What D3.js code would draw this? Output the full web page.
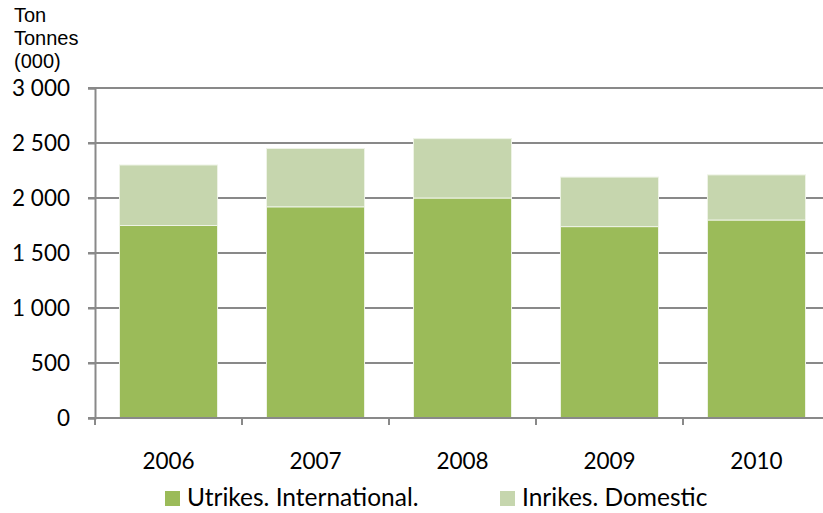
<!DOCTYPE html>
<html>
<head>
<meta charset="utf-8">
<script src="https://cdn.jsdelivr.net/npm/d3@7"></script>
<style>
  body { margin: 0; background: #fff; }
</style>
</head>
<body>
<div id="chart"></div>
<script>
// data (tonnes, thousands)
var years = ["2006", "2007", "2008", "2009", "2010"];
var international = [1750, 1920, 2000, 1740, 1800];
var domestic = [550, 530, 540, 450, 410];
var yTicks = [0, 500, 1000, 1500, 2000, 2500, 3000];
var seriesNames = ["Utrikes. International.", "Inrikes. Domestic"];
var seriesColors = ["#9bbb59", "#c6d6ae"];

var width = 823, height = 513;
var margin = { top: 88, bottom: 95, left: 95 };
var plotRight = 830; // last band runs just past the window edge

var svg = d3.select("#chart")
  .append("svg")
    .attr("width", width)
    .attr("height", height);

var x = d3.scaleBand()
  .domain(years)
  .range([margin.left, plotRight])
  .paddingInner(0.333)
  .paddingOuter(0.1667);

var y = d3.scaleLinear()
  .domain([0, 3000])
  .range([height - margin.bottom, margin.top]);

var fmt = function(v) { return d3.format(",")(v).replace(/,/g, " "); };

// gridlines
svg.append("g")
  .selectAll("line")
  .data(yTicks.filter(function(d){ return d > 0; }))
  .enter()
  .append("line")
    .attr("x1", margin.left - 7)
    .attr("x2", width)
    .attr("y1", function(d){ return y(d); })
    .attr("y2", function(d){ return y(d); })
    .attr("stroke", "#898989")
    .attr("stroke-width", 2);

// stacked bars
var rows = years.map(function(yr, i) {
  return { year: yr, intl: international[i], dom: domestic[i] };
});
var stack = d3.stack().keys(["intl", "dom"])(rows);

svg.append("g")
  .selectAll("g")
  .data(stack)
  .enter()
  .append("g")
    .attr("fill", function(d, i){ return seriesColors[i]; })
  .selectAll("rect")
  .data(function(d){ return d; })
  .enter()
  .append("rect")
    .attr("x", function(d){ return x(d.data.year); })
    .attr("width", x.bandwidth())
    .attr("y", function(d){ return y(d[1]); })
    .attr("height", function(d){ return y(d[0]) - y(d[1]); })
    .attr("stroke", "#eef3e6")
    .attr("stroke-width", 1);

// y axis
var yAxis = svg.append("g")
  .attr("transform", "translate(" + margin.left + ",0)")
  .call(d3.axisLeft(y).tickValues(yTicks).tickFormat(fmt).tickSize(7).tickPadding(18));
yAxis.select(".domain").attr("stroke", "#898989").attr("stroke-width", 2);
yAxis.selectAll(".tick line").attr("stroke", "#898989").attr("stroke-width", 2);
yAxis.selectAll("text")
  .attr("font-family", "Lato, sans-serif")
  .attr("font-size", 22.5)
  .attr("fill", "#000");

// x axis, ticks at band edges
var xAxisG = svg.append("g")
  .attr("transform", "translate(0," + y(0) + ")");
xAxisG.append("line")
  .attr("x1", margin.left - 7)
  .attr("x2", width)
  .attr("stroke", "#898989")
  .attr("stroke-width", 2);
var edges = years.map(function(yr){ return x(yr) - x.step() * x.paddingInner() / 2; });
xAxisG.selectAll(".edge")
  .data(edges)
  .enter()
  .append("line")
    .attr("x1", function(d){ return d; })
    .attr("x2", function(d){ return d; })
    .attr("y1", 0)
    .attr("y2", 7)
    .attr("stroke", "#898989")
    .attr("stroke-width", 2);
xAxisG.selectAll(".lbl")
  .data(years)
  .enter()
  .append("text")
    .attr("x", function(d){ return x(d) + x.bandwidth() / 2; })
    .attr("y", 51)
    .attr("text-anchor", "middle")
    .attr("font-family", "Lato, sans-serif")
    .attr("font-size", 22.5)
    .text(function(d){ return d; });

// unit label
svg.append("text")
  .attr("font-family", "Liberation Sans, Arial, sans-serif")
  .attr("font-size", 20)
  .selectAll("tspan")
  .data(["Ton", "Tonnes", "(000)"])
  .enter()
  .append("tspan")
    .attr("x", 14)
    .attr("y", function(d, i){ return 22 + i * 23; })
    .text(function(d){ return d; });

// legend
var legendX = [165, 500];
var legend = svg.append("g")
  .selectAll("g")
  .data(seriesNames)
  .enter()
  .append("g")
    .attr("transform", function(d, i){ return "translate(" + legendX[i] + ",491)"; });
legend.append("rect")
  .attr("width", 15)
  .attr("height", 15)
  .attr("fill", function(d, i){ return seriesColors[i]; });
legend.append("text")
  .attr("x", 22)
  .attr("y", 15)
  .attr("font-family", "Lato, sans-serif")
  .attr("font-size", 24.5)
  .text(function(d){ return d; });
</script>
</body>
</html>
